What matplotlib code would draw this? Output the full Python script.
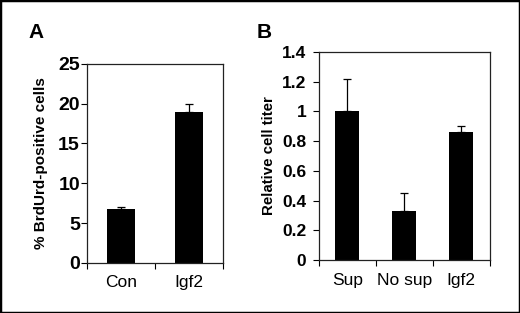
import matplotlib
matplotlib.use("Agg")
import matplotlib.pyplot as plt
from matplotlib.patches import Rectangle

# panel A
a_labels = ["Con", "Igf2"]
a_values = [6.8, 19.0]
a_err = [0.2, 1.0]
a_ticks = [0, 5, 10, 15, 20, 25]

# panel B
b_labels = ["Sup", "No sup", "Igf2"]
b_values = [1.0, 0.33, 0.86]
b_err = [0.22, 0.12, 0.04]
b_ticks = [0, 0.2, 0.4, 0.6, 0.8, 1, 1.2, 1.4]
b_ticklabels = ["0", "0.2", "0.4", "0.6", "0.8", "1", "1.2", "1.4"]

plt.rcParams['font.family'] = ['Liberation Sans', 'DejaVu Sans']

fig = plt.figure(figsize=(5.2, 3.13), dpi=100)
fig.patches.append(Rectangle((0, 0), 1, 1, transform=fig.transFigure,
                             fill=False, edgecolor='black', linewidth=2.5))


def panel(ax, labels, values, err, n):
    x = list(range(n))
    ax.bar(x, values, width=0.42, color='black', zorder=2)
    ax.errorbar(x, values, yerr=[[0] * n, err], fmt='none', ecolor='black',
                elinewidth=0.9, capsize=3, capthick=0.9, zorder=3)
    ax.set_xlim(-0.5, n - 0.5)
    ax.set_xticks(x)
    ax.set_xticklabels(labels, fontsize=12.5)
    ax.set_xticks([i - 0.5 for i in range(n + 1)], minor=True)
    ax.tick_params(axis='x', which='major', length=0, pad=9)
    ax.tick_params(axis='x', which='minor', length=4, width=0.8, direction='out')
    ax.tick_params(axis='y', length=4, width=0.8, direction='out')
    for s in ax.spines.values():
        s.set_linewidth(0.9)
        s.set_color('#222222')


# A
axA = fig.add_axes([0.167, 0.160, 0.262, 0.636])
panel(axA, a_labels, a_values, a_err, 2)
axA.set_ylim(0, 25)
axA.set_yticks(a_ticks)
axA.set_yticklabels([str(t) for t in a_ticks], fontsize=14, fontweight='bold')
axA.tick_params(axis='y', pad=1)
axA.set_ylabel("% BrdUrd-positive cells", fontsize=11, fontweight='bold', labelpad=7)
fig.text(0.069, 0.895, "A", fontsize=15, fontweight='bold', ha='center', va='center')

# B
axB = fig.add_axes([0.613, 0.169, 0.329, 0.665])
panel(axB, b_labels, b_values, b_err, 3)
axB.set_ylim(0, 1.4)
axB.set_yticks(b_ticks)
axB.set_yticklabels(b_ticklabels, fontsize=12.5, fontweight='bold')
axB.tick_params(axis='y', pad=5)
axB.set_ylabel("Relative cell titer", fontsize=10.8, fontweight='bold', labelpad=4)
fig.text(0.508, 0.895, "B", fontsize=15, fontweight='bold', ha='center', va='center')

fig.savefig("out.png", dpi=100)
